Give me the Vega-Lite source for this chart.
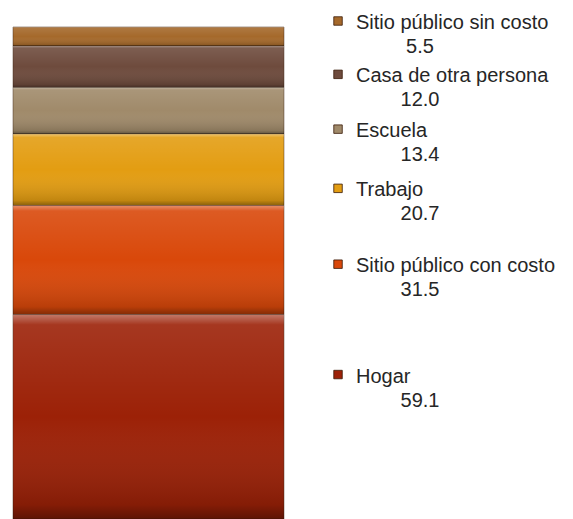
{
  "$schema": "https://vega.github.io/schema/vega-lite/v6.json",
  "width": 560,
  "height": 492,
  "autosize": {"type": "none"},
  "padding": {"left": 13, "top": 27, "right": 0, "bottom": 0},
  "background": "white",
  "config": {"view": {"stroke": null}, "font": "Liberation Sans"},
  "data": {
    "values": [
      {"lugar": "Sitio público sin costo", "valor": 5.5},
      {"lugar": "Casa de otra persona", "valor": 12.0},
      {"lugar": "Escuela", "valor": 13.4},
      {"lugar": "Trabajo", "valor": 20.7},
      {"lugar": "Sitio público con costo", "valor": 31.5},
      {"lugar": "Hogar", "valor": 59.1}
    ]
  },
  "resolve": {"scale": {"y": "independent"}},
  "layer": [
    {
      "transform": [{"stack": "valor", "groupby": [], "sort": [{"field": "valor", "order": "ascending"}], "as": ["y0", "y1"]}],
      "mark": {"type": "bar", "stroke": "#3a2010", "strokeOpacity": 0.45, "strokeWidth": 1},
      "encoding": {
        "x": {"datum": 0, "type": "quantitative", "scale": {"domain": [0, 100]}, "axis": null},
        "x2": {"datum": 48.39},
        "y": {"field": "y0", "type": "quantitative", "scale": {"domain": [0, 142.2], "reverse": true, "nice": false}, "axis": null},
        "y2": {"field": "y1"},
        "color": {
          "field": "lugar", "type": "nominal", "legend": null,
          "scale": {
            "domain": ["Sitio público sin costo", "Casa de otra persona", "Escuela", "Trabajo", "Sitio público con costo", "Hogar"],
            "range": ["#A5692B", "#6E4B3D", "#A08A6A", "#E39D12", "#D9480A", "#9C2107"]
          }
        }
      }
    },
    {
      "transform": [{"stack": "valor", "groupby": [], "sort": [{"field": "valor", "order": "ascending"}], "as": ["y0", "y1"]}],
      "mark": {
        "type": "bar",
        "fill": {
          "gradient": "linear", "x1": 0, "y1": 0, "x2": 0, "y2": 1,
          "stops": [
            {"offset": 0, "color": "rgba(255,255,255,0.40)"},
            {"offset": 0.05, "color": "rgba(255,255,255,0.10)"},
            {"offset": 0.5, "color": "rgba(255,255,255,0)"},
            {"offset": 0.93, "color": "rgba(0,0,0,0.15)"},
            {"offset": 1, "color": "rgba(0,0,0,0.40)"}
          ]
        }
      },
      "encoding": {
        "x": {"datum": 0, "type": "quantitative", "scale": {"domain": [0, 100]}, "axis": null},
        "x2": {"datum": 48.39},
        "y": {"field": "y0", "type": "quantitative", "scale": {"domain": [0, 142.2], "reverse": true, "nice": false}, "axis": null},
        "y2": {"field": "y1"}
      }
    },
    {
      "mark": {"type": "point", "shape": "square", "filled": true, "size": 72, "yOffset": -14, "stroke": "#3a1a08", "strokeWidth": 0.8, "opacity": 1},
      "encoding": {
        "x": {"datum": 58.04, "type": "quantitative", "scale": {"domain": [0, 100]}, "axis": null},
        "y": {"field": "valor", "type": "quantitative", "stack": "zero", "bandPosition": 0.5, "scale": {"type": "pow", "exponent": 0.65, "domain": [1.839, 175.9], "reverse": true, "nice": false, "zero": false}, "axis": null},
        "order": {"field": "valor", "type": "quantitative", "sort": "ascending"},
        "color": {
          "field": "lugar", "type": "nominal", "legend": null,
          "scale": {
            "domain": ["Sitio público sin costo", "Casa de otra persona", "Escuela", "Trabajo", "Sitio público con costo", "Hogar"],
            "range": ["#A5692B", "#6E4B3D", "#A08A6A", "#E39D12", "#D9480A", "#9C2107"]
          }
        }
      }
    },
    {
      "mark": {"type": "text", "align": "left", "baseline": "middle", "fontSize": 20, "yOffset": -12, "color": "#262626"},
      "encoding": {
        "x": {"datum": 61.25, "type": "quantitative", "scale": {"domain": [0, 100]}, "axis": null},
        "y": {"field": "valor", "type": "quantitative", "stack": "zero", "bandPosition": 0.5, "scale": {"type": "pow", "exponent": 0.65, "domain": [1.839, 175.9], "reverse": true, "nice": false, "zero": false}, "axis": null},
        "order": {"field": "valor", "type": "quantitative", "sort": "ascending"},
        "detail": {"field": "lugar", "type": "nominal"},
        "text": {"field": "lugar", "type": "nominal"}
      }
    },
    {
      "mark": {"type": "text", "align": "center", "baseline": "middle", "fontSize": 20, "yOffset": 12, "color": "#262626"},
      "encoding": {
        "x": {"datum": 72.68, "type": "quantitative", "scale": {"domain": [0, 100]}, "axis": null},
        "y": {"field": "valor", "type": "quantitative", "stack": "zero", "bandPosition": 0.5, "scale": {"type": "pow", "exponent": 0.65, "domain": [1.839, 175.9], "reverse": true, "nice": false, "zero": false}, "axis": null},
        "order": {"field": "valor", "type": "quantitative", "sort": "ascending"},
        "detail": {"field": "lugar", "type": "nominal"},
        "text": {"field": "valor", "type": "quantitative", "format": ".1f"}
      }
    }
  ]
}
